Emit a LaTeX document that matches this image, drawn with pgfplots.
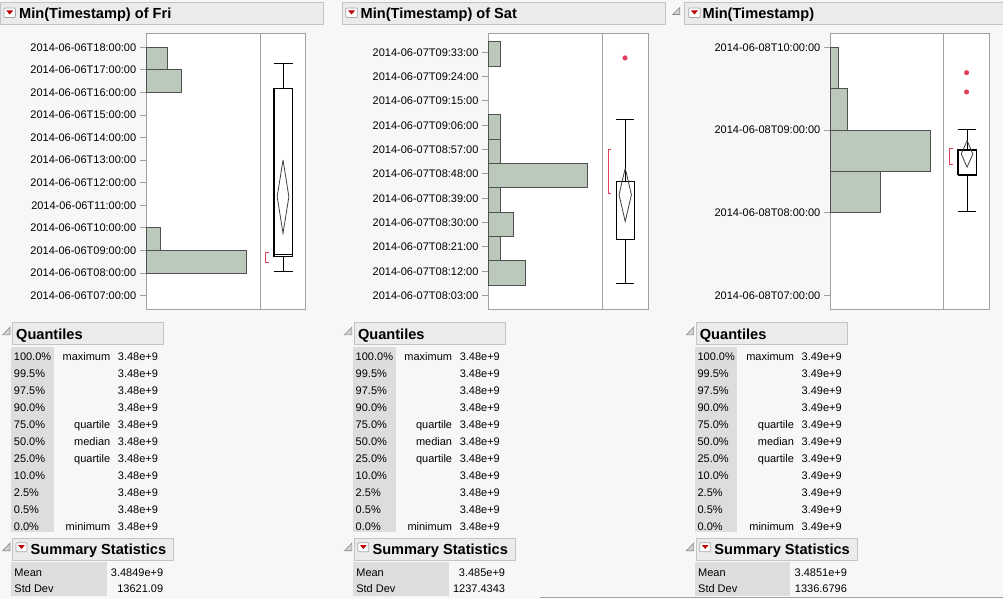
\documentclass[border=0pt]{standalone}
\usepackage{pgfplots}
\pgfplotsset{compat=1.18}
\usepackage{fontspec}
\setmainfont{Liberation Sans}
\definecolor{bg}{HTML}{F7F7F7}
\definecolor{hdr}{HTML}{EBEBEB}
\definecolor{hdrline}{HTML}{C4C4C4}
\definecolor{colgray}{HTML}{DDDDDD}
\definecolor{framec}{HTML}{A0A0A0}
\definecolor{barfill}{HTML}{BAC9BA}
\definecolor{bardraw}{HTML}{505050}
\definecolor{jred}{HTML}{E0405A}
\definecolor{iconred}{HTML}{C00000}
\newcommand{\tl}{\fontsize{11}{13}\selectfont}
\newcommand{\hd}{\fontsize{14.6}{16}\selectfont\bfseries}
\pgfplotsset{
  jmp/.style={scale only axis, height=276.7pt, anchor=south west,
    axis line style={draw=framec, line width=0.9pt},
    axis background/.style={fill=white}, xtick=\empty, clip=false},
  hist/.style={jmp, xmin=0, ytick pos=left, tick align=outside,
    major tick length=6.5pt, ytick style={draw=framec, line width=0.9pt},
    yticklabel style={font=\tl, text=black}},
  bars/.style={xbar, bar shift=0pt, fill=barfill, draw=bardraw, line width=0.9pt},
  boxax/.style={jmp, ytick=\empty, xmin=0},
  bx/.style={black, line width=1.3pt, no markers},
  wh/.style={black, line width=1pt, no markers},
  dm/.style={black!75, line width=0.8pt, no markers},
  br/.style={jred, line width=1pt, no markers},
  ol/.style={only marks, mark=*, mark size=2.3pt, mark options={draw=jred, fill=jred}},
}
\begin{document}
\begin{tikzpicture}
\begin{scope}[x=1pt,y=-1pt]
\useasboundingbox (0,0) rectangle (1003,599);
\fill[bg] (0,0) rectangle (1003,599);
\end{scope}

% ---------- Panel 1 ----------
\begin{axis}[hist, at={(146.3pt,-310pt)}, width=114.4pt, xmax=16.02,
  ymin=6.367, ymax=18.62, ytick={7,8,...,18},
  yticklabels={2014-06-06T07:00:00,2014-06-06T08:00:00,2014-06-06T09:00:00,2014-06-06T10:00:00,2014-06-06T11:00:00,2014-06-06T12:00:00,2014-06-06T13:00:00,2014-06-06T14:00:00,2014-06-06T15:00:00,2014-06-06T16:00:00,2014-06-06T17:00:00,2014-06-06T18:00:00}]
\addplot[bars, bar width=1] coordinates {(14,8.5) (2,9.5) (5,16.5) (3,17.5)};
\end{axis}
\begin{axis}[boxax, at={(260.7pt,-310pt)}, width=45.3pt, xmax=45.3, ymin=6.367, ymax=18.62]
\addplot[wh] coordinates {(22.65,16.18) (22.65,17.29)};
\addplot[wh] coordinates {(22.65,8.73) (22.65,8.06)};
\addplot[wh] coordinates {(13.3,17.29) (32,17.29)};
\addplot[wh] coordinates {(13.3,8.06) (32,8.06)};
\addplot[bx] coordinates {(13.3,8.73) (32,8.73) (32,16.18) (13.3,16.18) (13.3,8.73)};
\addplot[wh] coordinates {(13.3,8.83) (32,8.83)};
\addplot[dm] coordinates {(22.45,13.01) (28.3,11.38) (22.45,9.76) (16.6,11.38) (22.45,13.01)};
\addplot[br] coordinates {(8.3,8.92) (5.3,8.92) (5.3,8.48) (8.3,8.48)};
\end{axis}

% ---------- Panel 2 ----------
\begin{axis}[hist, at={(488.7pt,-310pt)}, width=114.3pt, xmax=9.22,
  ymin=-2.29, ymax=100.03, ytick={3,12,...,93},
  yticklabels={2014-06-07T08:03:00,2014-06-07T08:12:00,2014-06-07T08:21:00,2014-06-07T08:30:00,2014-06-07T08:39:00,2014-06-07T08:48:00,2014-06-07T08:57:00,2014-06-07T09:06:00,2014-06-07T09:15:00,2014-06-07T09:24:00,2014-06-07T09:33:00}]
\addplot[bars, bar width=9] coordinates {(3,11.35) (1,20.35) (2,29.35) (1,38.35) (8,47.35) (1,56.35) (1,65.35) (1,92.35)};
\end{axis}
\begin{axis}[boxax, at={(603pt,-310pt)}, width=45.3pt, xmax=45.3, ymin=-2.29, ymax=100.03]
\addplot[wh] coordinates {(22.7,45.1) (22.7,68.2)};
\addplot[wh] coordinates {(22.7,23.8) (22.7,7.6)};
\addplot[wh] coordinates {(13.7,68.2) (31.7,68.2)};
\addplot[wh] coordinates {(13.7,7.6) (31.7,7.6)};
\addplot[bx] coordinates {(13.7,23.8) (31.7,23.8) (31.7,45.1) (13.7,45.1) (13.7,23.8)};
\addplot[dm] coordinates {(22.5,50.1) (28.7,40.3) (22.5,30.4) (16.3,40.3) (22.5,50.1)};
\addplot[br] coordinates {(8.7,57.0) (5.3,57.0) (5.3,40.6) (8.7,40.6)};
\addplot[ol] coordinates {(22.3,90.9)};
\end{axis}

% ---------- Panel 3 ----------
\begin{axis}[hist, at={(830.7pt,-310pt)}, width=113.6pt, xmax=13.64,
  ymin=6.827, ymax=10.169, ytick={7,8,9,10},
  yticklabels={2014-06-08T07:00:00,2014-06-08T08:00:00,2014-06-08T09:00:00,2014-06-08T10:00:00}]
\addplot[bars, bar width=0.5] coordinates {(6,8.25) (12,8.75) (2,9.25) (1,9.75)};
\end{axis}
\begin{axis}[boxax, at={(944.3pt,-310pt)}, width=45.7pt, xmax=45.7, ymin=6.827, ymax=10.169]
\addplot[wh] coordinates {(23.2,8.76) (23.2,9.01)};
\addplot[wh] coordinates {(23.2,8.458) (23.2,8.01)};
\addplot[wh] coordinates {(14,9.01) (32.4,9.01)};
\addplot[wh] coordinates {(14,8.01) (32.4,8.01)};
\addplot[bx] coordinates {(14,8.458) (32.4,8.458) (32.4,8.76) (14,8.76) (14,8.458)};
\addplot[black, line width=2pt, no markers] coordinates {(14,8.76) (32.4,8.76)};
\addplot[dm] coordinates {(23.2,8.872) (29,8.711) (23.2,8.551) (17.4,8.711) (23.2,8.872)};
\addplot[br] coordinates {(9.4,8.772) (6,8.772) (6,8.587) (9.4,8.587)};
\addplot[ol] coordinates {(22.7,9.693) (22.7,9.46)};
\end{axis}

% ---------- headers and tables ----------
\begin{scope}[x=1pt,y=-1pt]
% top headers
\filldraw[fill=hdr, draw=hdrline, line width=0.9pt] (0.7,2.7) rectangle (323.3,24.3);
\filldraw[fill=hdr, draw=hdrline, line width=0.9pt] (342.7,2.7) rectangle (665.7,24.3);
\fill[hdr] (684.3,2.7) rectangle (1003,24.3);
\draw[hdrline, line width=0.9pt] (1003,2.7) -- (684.3,2.7) -- (684.3,24.3) -- (1003,24.3);
\filldraw[fill=black!18, draw=black!45, line width=0.6pt] (673,14.5) -- (680,14.5) -- (680,7.5) -- cycle;
\foreach \ix in {4,346,689} {
  \filldraw[fill=white, draw=black!35, line width=0.7pt, rounded corners=1pt] (\ix,8) rectangle (\ix+11.5,17.5);
  \fill[iconred] (\ix+2.3,10.5) -- (\ix+9.2,10.5) -- (\ix+5.75,14.5) -- cycle;
}
\node[anchor=base west, inner sep=0, font=\hd] at (19,19) {Min(Timestamp) of Fri};
\node[anchor=base west, inner sep=0, font=\hd] at (360.7,19) {Min(Timestamp) of Sat};
\node[anchor=base west, inner sep=0, font=\hd] at (702.7,19) {Min(Timestamp)};

% quantiles + summary
\foreach \ox/\v/\m/\s in {0/3.48e+9/3.4849e+9/13621.09, 342/3.48e+9/3.485e+9/1237.4343, 684/3.49e+9/3.4851e+9/1336.6796} {
  \filldraw[fill=black!18, draw=black!45, line width=0.6pt] (\ox+2.7,335) -- (\ox+10,335) -- (\ox+10,327.3) -- cycle;
  \filldraw[fill=hdr, draw=hdrline, line width=0.9pt] (\ox+12.3,322.3) rectangle (\ox+163.7,344.7);
  \node[anchor=base west, inner sep=0, font=\hd] at (\ox+16,339.5) {Quantiles};
  \fill[colgray] (\ox+11.3,347.3) rectangle (\ox+53.7,532.7);
  \foreach \p/\n [count=\k from 0] in {100.0\%/maximum, 99.5\%/{}, 97.5\%/{}, 90.0\%/{}, 75.0\%/quartile, 50.0\%/median, 25.0\%/quartile, 10.0\%/{}, 2.5\%/{}, 0.5\%/{}, 0.0\%/minimum} {
    \node[anchor=base west, inner sep=0, font=\tl] at (\ox+13.7,360.5+17*\k) {\p};
    \node[anchor=base east, inner sep=0, font=\tl] at (\ox+110.5,360.5+17*\k) {\n};
    \node[anchor=base west, inner sep=0, font=\tl] at (\ox+117.8,360.5+17*\k) {\v};
  }
  \filldraw[fill=black!18, draw=black!45, line width=0.6pt] (\ox+2.7,551) -- (\ox+10,551) -- (\ox+10,543.3) -- cycle;
  \filldraw[fill=hdr, draw=hdrline, line width=0.9pt] (\ox+12.3,538.3) rectangle (\ox+173.5,560.7);
  \filldraw[fill=white, draw=black!35, line width=0.7pt, rounded corners=1pt] (\ox+16,543) rectangle (\ox+27,552);
  \fill[iconred] (\ox+18.2,545.4) -- (\ox+24.8,545.4) -- (\ox+21.5,549.2) -- cycle;
  \node[anchor=base west, inner sep=0, font=\hd] at (\ox+30.5,555) {Summary Statistics};
  \fill[colgray] (\ox+11.3,562.7) rectangle (\ox+106.7,596.5);
  \node[anchor=base west, inner sep=0, font=\tl] at (\ox+14.3,576.5) {Mean};
  \node[anchor=base west, inner sep=0, font=\tl] at (\ox+14.3,593) {Std Dev};
  \node[anchor=base east, inner sep=0, font=\tl] at (\ox+163.5,576.5) {\m};
  \node[anchor=base east, inner sep=0, font=\tl] at (\ox+163.5,593) {\s};
}
\fill[white] (540,597.7) rectangle (1003,599);
\draw[framec, line width=0.8pt] (540,597.3) -- (1003,597.3);
\end{scope}
\end{tikzpicture}
\end{document}
